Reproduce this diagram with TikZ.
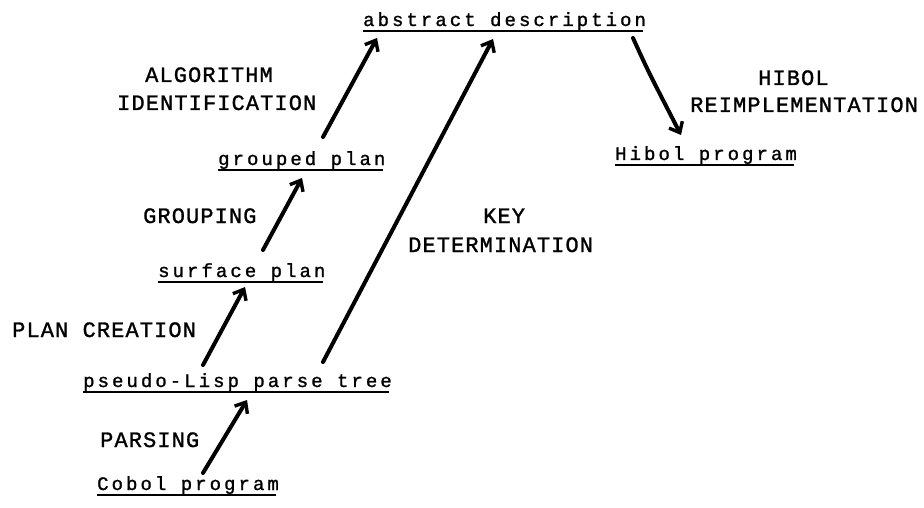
\documentclass[tikz,border=0pt]{standalone}
\usepackage{fontspec}
\usetikzlibrary{arrows.meta,calc}
\newfontfamily\capsfont[LetterSpace=5,FakeBold=1.2]{Liberation Mono}
\newfontfamily\lowfont[LetterSpace=16,FakeBold=1.2]{Liberation Mono}
\begin{document}
\begin{tikzpicture}[x=1pt,y=-1pt,
  lab/.style={anchor=base west,inner sep=0pt,font=\capsfont\fontsize{22}{22}\selectfont},
  stage/.style={anchor=base west,inner sep=0pt,font=\lowfont\fontsize{19}{19}\selectfont},
  uline/.style={line width=2.4pt},
  arr/.style={line width=4pt,line cap=round,-{Straight Barb[length=9pt,width=15pt,line width=3.4pt]}}]
\fill[white] (0,0) rectangle (924,508);
\useasboundingbox (0,0) rectangle (924,508);
% stage nodes
\node[stage] (abs) at (363,26) {abstract description};
\node[stage] (grp) at (218,165) {grouped plan};
\node[stage] (srf) at (158,277) {surface plan};
\node[stage] (pse) at (83,387) {pseudo-Lisp parse tree};
\node[stage] (cob) at (97,490) {Cobol program};
\node[stage] (hib) at (615,160) {Hibol program};
% underlines
\foreach \n in {abs,grp,srf,pse,cob,hib}{
  \draw[uline] ($(\n.base west)+(0,5)$) -- ($(\n.base east)+(-3,5)$);
}
% labels
\node[lab] (alg1) at (145,82) {ALGORITHM};
\node[lab] (alg2) at (117,110) {IDENTIFICATION};
\node[lab] (grl) at (143,223) {GROUPING};
\node[lab] (key1) at (483,223) {KEY};
\node[lab] (key2) at (408,252) {DETERMINATION};
\node[lab] (pcr) at (12,337) {PLAN CREATION};
\node[lab] (par) at (100,447) {PARSING};
\node[lab] (hb1) at (758,85) {HIBOL};
\node[lab] (hb2) at (690,112) {REIMPLEMENTATION};
% arrows
\draw[arr] ($(cob.base west)+(106,-17)$) -- ($(pse.base west)+(164,13)$);
\draw[arr] ($(pse.base west)+(120,-22)$) -- ($(srf.base west)+(87,10)$);
\draw[arr] ($(srf.base west)+(105,-27)$) -- ($(grp.base west)+(84,13)$);
\draw[arr] ($(grp.base west)+(105,-28)$) -- ($(abs.base west)+(14,12)$);
\draw[arr] ($(pse.base west)+(240,-25)$) -- ($(abs.base west)+(130,13)$);
\draw[arr] ($(abs.base west)+(270,12)$) .. controls ($(abs.base west)+(285,45)$) .. ($(hib.base west)+(66,-25)$);
\end{tikzpicture}
\end{document}
